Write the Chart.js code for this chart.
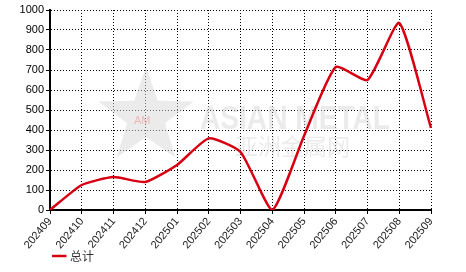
<!DOCTYPE html>
<html>
<head>
<meta charset="utf-8">
<script src="https://cdn.jsdelivr.net/npm/chart.js@4"></script>
<style>
  body { margin: 0; background: #fff; }
  #wrap { width: 466px; height: 272px; }
</style>
</head>
<body>
<div id="wrap"><canvas id="chart" width="466" height="272"></canvas></div>
<script>
const ctx = document.getElementById('chart').getContext('2d');

let months = ["202409","202410","202411","202412","202501","202502","202503","202504","202505","202506","202507","202508","202509"];
let totals = [0, 125, 165, 140, 225, 358, 290, 0, 370, 715, 650, 935, 410];

// faint site logo behind the data
const watermark = {
    id: 'watermark',
    beforeDatasetsDraw(chart) {
        const c = chart.ctx;
        c.save();
        // star
        const cx = 146, cy = 117, ro = 50, ri = 20;
        c.beginPath();
        for (let i = 0; i < 10; i++) {
            const r = i % 2 ? ri : ro;
            const a = -Math.PI / 2 + i * Math.PI / 5;
            const px = cx + r * Math.cos(a), py = cy + r * Math.sin(a);
            i ? c.lineTo(px, py) : c.moveTo(px, py);
        }
        c.closePath();
        c.fillStyle = 'rgba(215,215,215,0.5)';
        c.fill();
        c.fillStyle = 'rgba(240,150,150,0.6)';
        c.font = '11px "Liberation Sans", Arial, sans-serif';
        c.fillText('AM', 134, 121);
        // text
        c.fillStyle = 'rgba(215,215,215,0.5)';
        c.font = 'bold 34px "Liberation Sans", Arial, sans-serif';
        const w = c.measureText('ASIAN METAL').width;
        c.translate(200, 120);
        c.scale(190 / w, 1);
        c.fillText('ASIAN METAL', 0, 0);
        c.setTransform(1, 0, 0, 1, 0, 0);
        c.font = '23px "Noto Sans CJK SC", sans-serif';
        c.fillText('亚洲金属网', 235, 146);
        c.restore();
    }
};

// put the legend where the reference has it
const legendShift = {
    id: 'legendShift',
    afterUpdate(chart) {
        const lg = chart.legend;
        const h = lg.bottom - lg.top;
        lg.left = 52;
        lg.top = 250;
        lg.bottom = 250 + h;
    }
};

let totalChart = new Chart(ctx, {
    type: 'line',
    data: {
        labels: months,
        datasets: [{
            label: '总计',
            data: totals,
            borderColor: 'rgb(214, 0, 18)',
            backgroundColor: 'rgb(214, 0, 18)',
            borderWidth: 2.5,
            pointRadius: 0,
            tension: 0.18,
            fill: false
        }]
    },
    options: {
        responsive: false,
        animation: false,
        layout: {
            padding: { left: 0, right: 35, top: 10, bottom: 0 }
        },
        scales: {
            x: {
                offset: false,
                grid: { color: '#000', lineWidth: 1, tickLength: 4, tickColor: '#000' },
                border: { color: '#000', width: 2, dash: [1, 2] },
                ticks: {
                    color: '#222',
                    font: { family: '"Liberation Sans", Arial, sans-serif', size: 11 },
                    minRotation: 50,
                    maxRotation: 50,
                    autoSkip: false,
                    padding: 1
                },
                afterFit(scale) { scale.height = 40; }
            },
            y: {
                min: 0,
                max: 1000,
                ticks: {
                    stepSize: 100,
                    color: '#000',
                    font: { family: '"Liberation Sans", Arial, sans-serif', size: 11 },
                    padding: 2,
                    callback: v => String(v)
                },
                grid: { color: '#000', lineWidth: 1, tickLength: 4, tickColor: '#000' },
                border: { color: '#000', width: 2, dash: [1, 2] },
                afterFit(scale) { scale.width = 50; }
            }
        },
        plugins: {
            legend: {
                position: 'bottom',
                align: 'start',
                labels: {
                    usePointStyle: true,
                    pointStyle: 'line',
                    boxWidth: 16,
                    color: '#333',
                    padding: 0,
                    font: { family: '"Noto Sans CJK SC", sans-serif', size: 12 }
                }
            },
            tooltip: { enabled: false }
        }
    },
    plugins: [watermark, legendShift]
});
</script>
</body>
</html>
